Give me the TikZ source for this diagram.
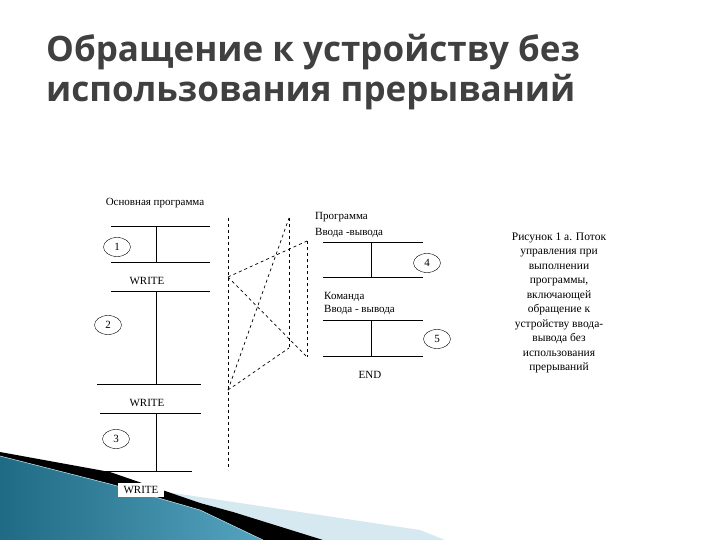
\documentclass[tikz,border=0pt]{standalone}
\usepackage{fontspec}
\setmainfont{Liberation Serif}
\newfontfamily\titlefont{Open Sans}
\usetikzlibrary{shapes.geometric, positioning}
\definecolor{titlegray}{HTML}{404040}
\definecolor{deco}{HTML}{2A8DB0}
\definecolor{decolight}{HTML}{D6E8F0}

\begin{document}
\begin{tikzpicture}[
  x=1pt, y=-1pt,
  txt/.style={font=\fontsize{11}{13}\selectfont, inner sep=0pt},
  num/.style={ellipse, draw, minimum width=27pt, minimum height=19pt,
              inner sep=0pt, font=\fontsize{11}{13}\selectfont},
  bar/.style={line width=0.8pt},
  flow/.style={dashed, line width=0.7pt}
]
\useasboundingbox (0,0) rectangle (720,540);
% bottom left decoration
\fill[decolight] (160,491) -- (200,497) -- (420,530) -- (445,540) -- (323,540)
  -- (233,512) -- (200,503) -- cycle;
\fill[black] (0,452) -- (110,472) -- (200,503) -- (233,512) -- (323,540)
  -- (263,540) -- (200,510) -- (110,484) -- (0,456) -- cycle;
\shade[left color=deco!75!black, right color=deco!80!white]
  (0,456) -- (110,484) -- (200,510) -- (263,540) -- (0,540) -- cycle;
\draw[white!60!deco, line width=0.6pt] (0,456) -- (110,484) -- (200,510) -- (263,540);

% title
\node[anchor=base west, align=left, text=titlegray, inner sep=0pt,
      font=\titlefont\bfseries\fontsize{35}{40}\selectfont] (title) at (46,102)
  {Обращение к устройству без\\использования прерываний};

% main program
\node[txt] (main) at (155,203) {Основная программа};
\coordinate (a1) at (111,226); \coordinate (a2) at (210,226);
\coordinate (b1) at (111,262); \coordinate (b2) at (210,262);
\coordinate (c1) at (111,291); \coordinate (c2) at (210,291);
\coordinate (d1) at (97,384);  \coordinate (d2) at (201,384);
\coordinate (e1) at (100,413); \coordinate (e2) at (201,413);
\coordinate (f1) at (93,471);  \coordinate (f2) at (192,471);
\draw[bar] (a1) -- (a2) (b1) -- (b2) (c1) -- (c2)
           (d1) -- (d2) (e1) -- (e2) (f1) -- (f2);
\draw[bar] (156,226) -- (156,262);
\draw[bar] (156,291) -- (156,384);
\draw[bar] (156,413) -- (156,471);
\node[txt] (write1) at (147,281) {WRITE};
\node[txt] (write2) at (147,403) {WRITE};
\node[txt, fill=white, inner xsep=6pt, inner ysep=3pt] (write3) at (141,490) {WRITE};
\node[num] (n1) at (117,247) {1};
\node[num] (n2) at (108,325) {2};
\node[num] (n3) at (116,439) {3};

% i/o program
\node[txt, anchor=west, align=left, font=\fontsize{11}{16}\selectfont] (prog) at (315,225)
  {Программа\\Ввода -вывода};
\node[txt, anchor=west, align=left] (cmd) at (324,303)
  {Команда\\Ввода - вывода};
\coordinate (g1) at (323,242); \coordinate (g2) at (423,242);
\coordinate (h1) at (323,277); \coordinate (h2) at (423,277);
\coordinate (i1) at (323,320); \coordinate (i2) at (423,320);
\coordinate (j1) at (323,356); \coordinate (j2) at (423,356);
\draw[bar] (g1) -- (g2) (h1) -- (h2) (i1) -- (i2) (j1) -- (j2);
\draw[bar] (371,242) -- (371,277);
\draw[bar] (371,320) -- (371,356);
\node[txt] (end) at (370,375) {END};
\node[num] (n4) at (427,263) {4};
\node[num] (n5) at (437,339) {5};

% control flow
\coordinate (lt) at (228,218); \coordinate (lb) at (228,470);
\coordinate (mt) at (289,218); \coordinate (mb) at (289,348);
\coordinate (rt) at (307,241); \coordinate (rb) at (307,357);
\coordinate (lw) at (228,277); \coordinate (lr) at (228,390);
\draw[flow] (lt) -- (lb);
\draw[flow] (mt) -- (mb);
\draw[flow] (rt) -- (rb);
\draw[flow] (lw) -- (rt);
\draw[flow] (lw) -- (rb);
\draw[flow] (lr) -- (mt);
\draw[flow] (lr) -- (mb);

% caption
\node[txt, align=center, font=\fontsize{11.5}{14.5}\selectfont] (caption) at (559,303)
  {Рисунок 1 а. Поток\\управления при\\выполнении\\программы,\\включающей\\обращение к\\устройству ввода-\\вывода без\\использования\\прерываний};
\end{tikzpicture}
\end{document}
